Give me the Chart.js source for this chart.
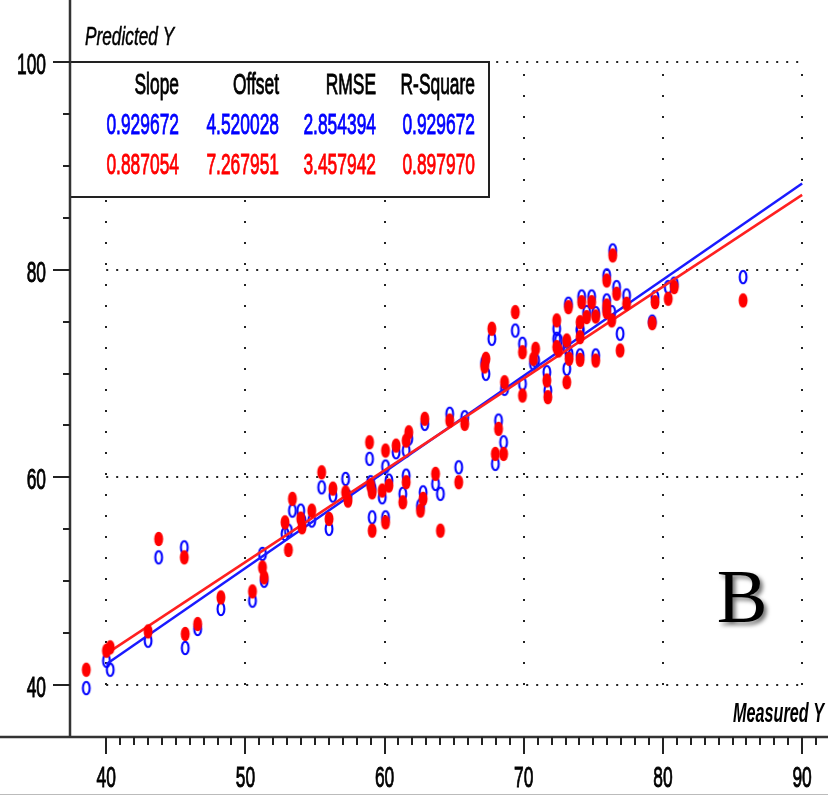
<!DOCTYPE html>
<html>
<head>
<meta charset="utf-8">
<script src="https://cdn.jsdelivr.net/npm/chart.js@4.4.1/dist/chart.umd.min.js"></script>
<style>
html,body{margin:0;padding:0;background:#fff;}
canvas{display:block;}
</style>
</head>
<body>
<canvas id="c" width="828" height="796"></canvas>
<script>
// ---- data ----
const measured = [38.57, 40.02, 40.29, 43.01, 43.77, 45.61, 45.68, 46.57, 48.24, 50.51, 51.23, 51.35,
  52.85, 53.09, 53.38, 53.98, 54.07, 54.77, 56.01, 55.48, 56.29, 57.20, 57.37,
  58.92, 59.00, 59.11, 59.11, 60.07, 59.83, 60.31, 60.07, 60.83, 61.55, 61.74, 61.55, 61.31,
  62.89, 62.58, 62.77, 63.66, 64.01, 64.68, 65.76, 65.33, 67.96, 68.19, 68.55,
  67.28, 67.19, 67.71, 68.62, 69.39, 69.91, 69.91, 70.85, 70.70, 71.66, 71.73,
  72.37, 72.37, 72.50, 73.09, 73.09, 73.26, 73.21, 74.05, 74.05, 74.05,
  74.16, 74.52, 74.88, 75.17, 75.17, 75.96, 75.96, 75.96,
  76.39, 76.32, 76.67, 76.92, 77.39, 79.23, 79.43, 80.38, 80.81, 85.76];
const predictedBlue = [39.71, 42.34, 41.48, 44.27, 52.30, 53.26, 43.57, 45.40, 47.33, 48.13, 52.63, 50.05,
  54.55, 54.87, 56.80, 56.80, 55.84, 55.84, 55.04, 59.04, 58.25, 59.85, 58.15,
  61.78, 59.53, 58.92, 56.15, 61.04, 58.08, 59.69, 56.15, 62.42, 62.58, 63.74, 60.17, 58.41,
  65.15, 57.28, 58.56, 59.37, 58.41, 66.12, 65.79, 60.97, 61.30, 65.47, 63.38,
  69.97, 71.06, 73.34, 68.53, 74.14, 72.86, 69.01, 71.25, 70.96, 70.13, 68.36,
  73.34, 74.31, 73.18, 72.54, 70.45, 71.90, 76.72, 74.31, 74.14, 71.74,
  77.42, 75.91, 77.42, 71.74, 75.81, 79.45, 77.04, 76.26,
  81.85, 75.91, 78.32, 73.83, 77.52, 75.00, 77.35, 78.32, 78.65, 79.28];
const predictedRed = [41.48, 43.31, 43.63, 45.17, 54.07, 52.30, 44.92, 45.88, 48.44, 49.02, 51.33, 50.37,
  55.67, 53.01, 57.93, 56.03, 55.19, 56.80, 56.00, 60.49, 58.92, 58.56, 57.76,
  63.38, 59.21, 58.56, 54.87, 62.58, 58.73, 59.21, 55.67, 63.06, 63.54, 64.34, 59.53, 57.60,
  65.64, 56.80, 57.93, 60.34, 54.87, 65.47, 65.15, 59.53, 62.26, 64.67, 62.26,
  71.42, 70.68, 74.31, 69.16, 75.91, 72.05, 67.88, 72.38, 71.42, 69.33, 67.72,
  72.54, 75.11, 72.22, 73.18, 69.16, 71.42, 76.39, 74.94, 73.50, 71.32,
  76.87, 75.43, 76.87, 71.25, 75.49, 78.96, 76.55, 75.91,
  81.37, 75.11, 77.68, 72.22, 76.72, 74.85, 76.87, 77.20, 78.32, 77.04];
const fitX = [40, 90];
const fitBlue = [42.0, 88.3];
const fitRed = [43.0, 87.2];
const xTickLabels = [40, 50, 60, 70, 80, 90];
const yTickLabels = [40, 60, 80, 100];
const statHeaders = ['Slope', 'Offset', 'RMSE', 'R-Square'];
const blueStats = ['0.929672', '4.520028', '2.854394', '0.929672'];
const redStats = ['0.887054', '7.267951', '3.457942', '0.897970'];

// ---- marker images ----
function makeMarker(fill) {
  const cv = document.createElement('canvas');
  cv.width = 12; cv.height = 18;
  const g = cv.getContext('2d');
  g.beginPath();
  if (fill) {
    g.ellipse(6, 9, 4.5, 7.3, 0, 0, Math.PI * 2);
    g.fillStyle = '#ff0000'; g.fill();
  } else {
    g.ellipse(6, 9, 3.4, 6.2, 0, 0, Math.PI * 2);
    g.strokeStyle = '#0000ff'; g.lineWidth = 2.1; g.stroke();
  }
  return cv;
}
const blueMarker = makeMarker(false);
const redMarker = makeMarker(true);

const FONT = '"Liberation Sans", Arial, sans-serif';
function txt(ctx, s, x, y, o) {
  ctx.save();
  ctx.font = `${o.style || 'normal'} ${o.weight || 'normal'} ${o.size}px ${o.family || FONT}`;
  ctx.fillStyle = o.color || '#000';
  ctx.strokeStyle = o.color || '#000';
  ctx.textAlign = o.align || 'left';
  ctx.textBaseline = 'alphabetic';
  ctx.translate(x, y);
  ctx.scale(o.sx || 1, 1);
  ctx.fillText(s, 0, 0);
  if (o.bold) { ctx.lineWidth = o.bold; ctx.strokeText(s, 0, 0); }
  ctx.restore();
}

const decor = {
  id: 'decor',
  beforeDatasetsDraw(chart) {
    const { ctx, chartArea: ca, scales: { x, y } } = chart;
    ctx.save();
    // dotted grid
    ctx.strokeStyle = '#222';
    ctx.lineWidth = 2;
    ctx.setLineDash([2, 8]);
    yTickLabels.forEach(v => {
      const py = Math.round(y.getPixelForValue(v));
      ctx.beginPath();
      ctx.moveTo(x.getPixelForValue(40), py);
      ctx.lineTo(x.getPixelForValue(90) + 1, py);
      ctx.stroke();
    });
    ctx.setLineDash([2, 19]);
    xTickLabels.forEach(v => {
      const px = Math.round(x.getPixelForValue(v));
      ctx.beginPath();
      ctx.moveTo(px, y.getPixelForValue(40));
      ctx.lineTo(px, y.getPixelForValue(100));
      ctx.stroke();
    });
    ctx.setLineDash([]);
    // statistics box
    const top = Math.round(y.getPixelForValue(100));
    ctx.fillStyle = '#fff';
    ctx.fillRect(ca.left, top, 489 - ca.left, 197 - top);
    ctx.strokeStyle = '#222';
    ctx.lineWidth = 2;
    ctx.strokeRect(ca.left, top, 489 - ca.left, 197 - top);
    // axes
    ctx.strokeStyle = '#333';
    ctx.lineWidth = 2.5;
    ctx.beginPath();
    ctx.moveTo(ca.left, 0); ctx.lineTo(ca.left, ca.bottom);
    ctx.moveTo(0, ca.bottom); ctx.lineTo(chart.width, ca.bottom);
    ctx.stroke();
    // y ticks
    ctx.lineWidth = 2;
    ctx.strokeStyle = '#222';
    for (let v = 40; v <= 100; v += 5) {
      const py = Math.round(y.getPixelForValue(v));
      const major = yTickLabels.includes(v);
      ctx.beginPath();
      ctx.moveTo(major ? ca.left - 17 : ca.left - 7, py);
      ctx.lineTo(ca.left, py);
      ctx.stroke();
    }
    // x ticks
    for (let v = 40; v <= 91; v += 1) {
      const px = Math.round(x.getPixelForValue(v));
      const major = xTickLabels.includes(v);
      ctx.beginPath();
      ctx.moveTo(px, ca.bottom);
      ctx.lineTo(px, ca.bottom + (major ? 17 : 8));
      ctx.stroke();
    }
    // bottom frame line
    ctx.strokeStyle = '#bbb';
    ctx.lineWidth = 1;
    ctx.beginPath();
    ctx.moveTo(0, 794.5); ctx.lineTo(chart.width, 794.5);
    ctx.stroke();
    ctx.restore();
  },
  afterDraw(chart) {
    const { ctx, chartArea: ca, scales: { x, y } } = chart;
    const base = { size: 29, sx: 0.6, bold: 0.9 };
    // tick labels
    yTickLabels.forEach(v => {
      txt(ctx, String(v), 46, y.getPixelForValue(v) + 12, { ...base, align: 'right' });
    });
    xTickLabels.forEach(v => {
      txt(ctx, String(v), x.getPixelForValue(v), 787, { ...base, align: 'center' });
    });
    // axis titles
    txt(ctx, 'Predicted Y', 85, 45, { size: 25, style: 'italic', sx: 0.69, bold: 0.5 });
    txt(ctx, 'Measured Y', 824, 722, { size: 27, style: 'italic', weight: 'bold', sx: 0.6, align: 'right' });
    // statistics table
    const colRight = [179, 279, 376, 475];
    statHeaders.forEach((h, i) => txt(ctx, h, colRight[i], 94, { ...base, align: 'right' }));
    blueStats.forEach((h, i) => txt(ctx, h, colRight[i], 134, { ...base, align: 'right', color: '#0000ff' }));
    redStats.forEach((h, i) => txt(ctx, h, colRight[i], 174, { ...base, align: 'right', color: '#ff0000' }));
    // panel letter
    ctx.save();
    ctx.shadowColor = 'rgba(0,0,0,0.55)';
    ctx.shadowOffsetX = 3; ctx.shadowOffsetY = 3; ctx.shadowBlur = 4;
    txt(ctx, 'B', 742, 622, { size: 76, family: '"Liberation Serif", "Times New Roman", serif', align: 'center' });
    ctx.restore();
  }
};

const bg = {
  id: 'bg',
  beforeDraw(chart) {
    const ctx = chart.ctx;
    ctx.save(); ctx.fillStyle = '#fff'; ctx.fillRect(0, 0, chart.width, chart.height); ctx.restore();
  }
};

new Chart(document.getElementById('c'), {
  type: 'scatter',
  data: {
    datasets: [
      {
        label: 'Predicted (red)',
        data: measured.map((m, i) => ({ x: m, y: predictedRed[i] })),
        pointStyle: redMarker,
        order: 0
      },
      {
        label: 'Fit red',
        type: 'line',
        data: fitX.map((m, i) => ({ x: m, y: fitRed[i] })),
        borderColor: '#ff2020',
        borderWidth: 2.5,
        pointRadius: 0,
        order: 1
      },
      {
        label: 'Fit blue',
        type: 'line',
        data: fitX.map((m, i) => ({ x: m, y: fitBlue[i] })),
        borderColor: '#1a1aff',
        borderWidth: 2.5,
        pointRadius: 0,
        order: 2
      },
      {
        label: 'Predicted (blue)',
        data: measured.map((m, i) => ({ x: m, y: predictedBlue[i] })),
        pointStyle: blueMarker,
        order: 3
      }
    ]
  },
  options: {
    responsive: false,
    animation: false,
    devicePixelRatio: 1,
    layout: { padding: { left: 70, right: 3, top: 10, bottom: 59 } },
    plugins: { legend: { display: false }, tooltip: { enabled: false } },
    scales: {
      x: { type: 'linear', min: 37.4, max: 91.5, display: false },
      y: { type: 'linear', min: 35, max: 105, display: false }
    }
  },
  plugins: [bg, decor]
});
</script>
</body>
</html>
